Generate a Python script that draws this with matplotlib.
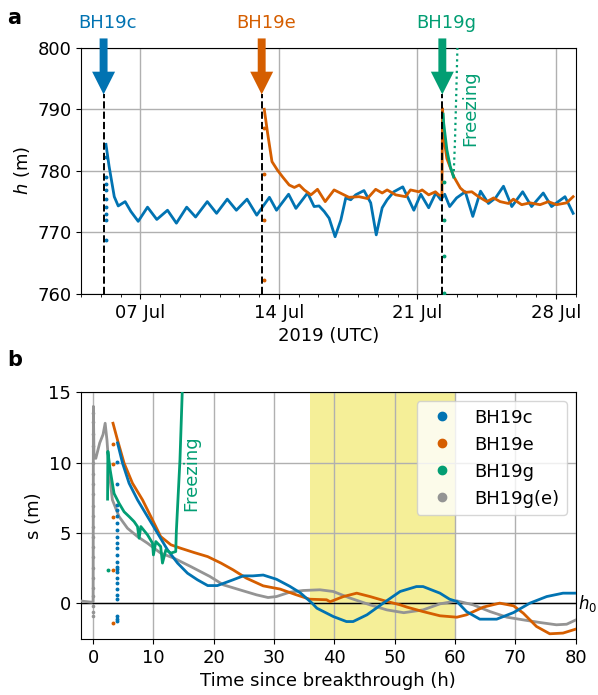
import datetime as dt
import matplotlib
matplotlib.use("Agg")
import matplotlib.pyplot as plt
import matplotlib.dates as mdates
from matplotlib.patches import FancyArrow
from matplotlib.lines import Line2D

plt.rcParams['font.family'] = ['DejaVu Sans']
plt.rcParams['font.size'] = 13

# ---------------- colours ----------------
C_C = '#0173b2'
C_E = '#d55e00'
C_G = '#029e73'
C_GE = '#949494'
C_BAND = '#ece133'

# ---------------- panel a data (day of July 2019, h in m) ----------------
c_day = [5.26, 5.42, 5.68, 5.88, 6.23, 6.52, 6.89, 7.36, 7.83, 8.37, 8.82, 9.34, 9.79,
         10.38, 10.85, 11.39, 11.85, 12.39, 12.88, 13.52, 13.88, 14.49, 14.86, 15.45,
         15.78, 16.03, 16.29, 16.54, 16.84, 17.13, 17.38, 17.63, 17.88, 18.30, 18.64,
         18.92, 19.22, 19.47, 19.81, 20.26, 20.57, 20.82, 21.17, 21.57, 21.93, 22.18,
         22.38, 22.63, 22.98, 23.42, 23.80, 24.19, 24.59, 24.95, 25.35, 25.77, 26.32,
         26.77, 27.36, 27.78, 28.46, 28.87]
c_h = [784.3, 780.7, 775.8, 774.3, 775.0, 773.4, 771.8, 774.1, 772.1, 773.6, 771.5, 774.1,
       772.5, 775.0, 773.1, 775.4, 773.6, 775.4, 772.8, 775.7, 773.6, 776.2, 773.9, 776.4,
       774.2, 774.3, 773.4, 772.3, 769.3, 772.0, 775.6, 775.3, 776.1, 776.8, 774.8, 769.6,
       774.0, 775.3, 776.6, 777.4, 775.3, 773.6, 776.2, 774.0, 776.4, 775.3, 776.2, 774.2,
       775.6, 776.6, 772.6, 776.7, 774.7, 775.6, 777.5, 774.2, 776.6, 774.2, 776.4, 774.2,
       775.8, 773.1]

e_day = [13.26, 13.43, 13.65, 13.93, 14.19, 14.52, 14.78, 15.03, 15.28, 15.62, 15.95,
         16.34, 16.79, 17.29, 17.54, 18.05, 18.47, 18.89, 19.22, 19.47, 19.90, 20.40,
         20.65, 21.07, 21.24, 21.57, 21.91, 22.08, 22.24, 22.27, 22.33, 22.49, 22.83,
         23.17, 23.42, 23.75, 24.09, 24.51, 24.85, 25.18, 25.60, 25.85, 26.27, 26.69,
         27.20, 27.62, 28.03, 28.54, 28.87]
e_h = [790.0, 786.1, 781.5, 780.1, 779.0, 777.7, 777.3, 777.7, 776.9, 776.1, 777.0,
       775.0, 776.9, 776.1, 775.7, 775.8, 775.5, 777.0, 776.4, 776.9, 776.1, 775.8,
       776.9, 776.6, 776.9, 776.1, 776.6, 776.1, 775.9, 790.1, 785.5, 782.0, 779.1,
       777.2, 776.5, 776.6, 775.8, 775.0, 775.6, 775.0, 774.7, 775.4, 774.5, 774.8,
       774.5, 775.0, 774.5, 774.8, 775.8]

g_day = [22.30, 22.33, 22.49, 22.66, 22.83]
g_h = [789.2, 787.7, 783.4, 780.7, 779.0]
g_freeze_day = [22.83, 22.90, 22.96, 23.03]
g_freeze_h = [779.0, 785.0, 792.0, 801.0]

c_out_day, c_out_h = 5.28, [782.3, 779.0, 777.9, 776.9, 775.5, 774.2, 773.0, 772.0, 768.7]
e_out_day, e_out_h = 13.23, [786.9, 779.5, 772.0, 762.3]
g_out_day, g_out_h = 22.36, [778.2, 772.0, 766.2, 760.2]

breakthrough_day = [5.14, 13.13, 22.26]
well_names = ['BH19c', 'BH19e', 'BH19g']
well_colors = [C_C, C_E, C_G]

# ---------------- panel b data (hours since breakthrough, s in m) ----------------
c_t = [4.05, 4.88, 5.97, 7.36, 9.02, 10.68, 12.34, 14.0, 15.65, 17.3, 19.0, 20.6, 23.2,
       24.9, 26.5, 28.2, 30.4, 32.6, 34.3, 36.3, 37.1, 39.8, 42.0, 43.1, 45.4, 48.1, 50.9,
       53.6, 54.7, 57.5, 59.1, 60.3, 61.9, 64.1, 66.9, 69.7, 72.4, 75.2, 77.9, 80.0]
c_s = [11.4, 9.96, 8.53, 7.35, 6.16, 4.98, 3.79, 2.85, 2.13, 1.66, 1.25, 1.25, 1.66,
       1.94, 1.94, 2.0, 1.7, 1.2, 0.75, 0.0, -0.36, -0.95, -1.31, -1.31, -0.83, 0.0, 0.83,
       1.18, 1.18, 0.71, 0.28, 0.12, -0.6, -1.14, -1.14, -0.67, 0.0, 0.47, 0.71, 0.71]

e_t = [3.3, 4.05, 5.14, 6.53, 8.19, 9.85, 11.2, 12.9, 14.5, 16.75, 19.0, 21.2, 23.2, 25.4,
       28.2, 31.0, 33.7, 35.9, 38.7, 39.3, 41.5, 43.7, 45.9, 48.7, 50.9, 52.0, 54.7, 57.5,
       60.3, 61.9, 64.7, 67.4, 69.7, 71.3, 73.5, 75.7, 77.9, 80.0]
e_s = [12.8, 11.6, 9.96, 8.53, 7.35, 5.92, 4.74, 4.15, 3.91, 3.6, 3.31, 2.85, 2.37, 1.78,
       1.23, 1.0, 0.59, 0.28, 0.24, 0.1, 0.47, 0.71, 0.47, 0.12, -0.12, -0.28, -0.6, -0.9,
       -1.0, -0.83, -0.28, 0.0, -0.19, -0.71, -1.66, -2.18, -2.13, -1.85]

g_t = [2.4, 2.45, 2.82, 3.48, 4.31, 5.14, 5.97, 6.8, 7.36, 7.63, 7.91, 9.02, 9.85, 10.0,
       10.4, 11.2, 11.5, 12.06, 12.9, 13.7, 13.8, 14.4, 14.8]
g_s = [7.4, 10.8, 9.5, 7.8, 7.1, 6.5, 6.16, 5.8, 5.45, 4.62, 5.45, 4.86, 4.27, 3.43,
       4.38, 4.03, 2.85, 3.79, 3.56, 3.67, 5.1, 10.2, 15.3]

ge_t = [-2.0, -0.3, 0.0, 0.05, 0.15, 0.45, 1.1, 1.65, 2.0, 2.3, 2.7, 3.2, 4.3, 5.7, 7.35,
        9.0, 11.2, 13.4, 16.2, 19.35, 21.6, 24.3, 27.1, 29.0, 30.4, 32.6, 34.8, 37.6, 39.8,
        42.6, 45.9, 48.7, 51.5, 54.7, 57.5, 60.3, 63.0, 65.8, 68.6, 71.3, 74.1, 76.8,
        78.5, 80.0]
ge_s = [0.15, 0.07, 0.1, 14.0, 10.4, 10.3, 11.4, 12.0, 12.8, 11.6, 9.2, 7.35, 6.16, 5.33,
        4.74, 4.27, 3.56, 3.2, 2.6, 1.9, 1.3, 0.95, 0.59, 0.4, 0.47, 0.78, 0.9, 0.95, 0.83,
        0.36, -0.12, -0.48, -0.68, -0.48, -0.05, 0.16, -0.12, -0.6, -1.0, -1.19, -1.38,
        -1.54, -1.5, -1.2]

c_out_t, c_out_s = 4.0, [10.07, 8.5, 7.0, 6.6, 6.2, 5.7, 5.2, 4.7, 4.3, 3.9, 3.4, 2.9, 2.6,
                         2.4, 2.2, 1.8, 1.4, 1.0, 0.6, 0.3, -0.9, -1.1, -1.3]
e_out_t, e_out_s = 3.3, [11.3, 9.9, 6.1, 2.35, -1.4]
g_out_t, g_out_s = 2.4, [2.37]
ge_out_t, ge_out_s = 0.0, [13.5, 12.9, 12.0, 11.2, 10.0, 9.2, 8.5, 7.8, 6.9, 6.2, 5.4, 4.7,
                           4.0, 3.3, 2.5, 1.8, 1.1, 0.5, -0.2, -0.6, -0.9]

band = (36, 60)
legend_names = ['BH19c', 'BH19e', 'BH19g', 'BH19g(e)']
legend_colors = [C_C, C_E, C_G, C_GE]

# ---------------- helpers ----------------
JUL0 = mdates.date2num(dt.datetime(2019, 7, 1))


def jd(days):
    if isinstance(days, (list, tuple)):
        return [JUL0 + d - 1 for d in days]
    return JUL0 + days - 1


fig = plt.figure(figsize=(5.98, 6.95), dpi=100)
ax1 = fig.add_axes([0.1355, 0.577, 0.8272, 0.3544])
ax2 = fig.add_axes([0.1355, 0.0806, 0.8272, 0.3549])

LW = 2.0
# ---------------- panel a ----------------
ax1.plot(jd(c_day), c_h, color=C_C, lw=LW, solid_joinstyle='round', zorder=3)
ax1.plot(jd(e_day), e_h, color=C_E, lw=LW, solid_joinstyle='round', zorder=3)
ax1.plot(jd(g_day), g_h, color=C_G, lw=LW, solid_joinstyle='round', zorder=4)
ax1.plot(jd(g_freeze_day), g_freeze_h, color=C_G, lw=1.6, ls=(0, (1, 1.6)), zorder=4)
ax1.plot([jd(c_out_day)] * len(c_out_h), c_out_h, 'o', color=C_C, ms=1.8, zorder=3)
ax1.plot([jd(e_out_day)] * len(e_out_h), e_out_h, 'o', color=C_E, ms=1.8, zorder=3)
ax1.plot([jd(g_out_day)] * len(g_out_h), g_out_h, 'o', color=C_G, ms=1.8, zorder=3)

for bd, name, col in zip(breakthrough_day, well_names, well_colors):
    x = jd(bd)
    ax1.plot([x, x], [760, 792.4], color='black', ls='--', lw=1.4, zorder=5, clip_on=False)
    arr = FancyArrow(x, 801.5, 0, -9.1, width=0.4, head_width=1.16, head_length=3.7,
                     length_includes_head=True, color=col, clip_on=False, zorder=6, lw=0)
    ax1.add_patch(arr)
    ax1.text(x + 0.22, 804, name, color=col, ha='center', va='center', clip_on=False)

ax1.text(jd(23.69), 790.2, 'Freezing', color=C_G, rotation=90, ha='center', va='center')

ax1.set_xlim(jd(4.0), jd(29.0))
ax1.set_ylim(760, 800)
ax1.set_yticks([760, 770, 780, 790, 800])
ax1.xaxis.set_major_locator(mdates.DayLocator(bymonthday=[7, 14, 21, 28]))
ax1.xaxis.set_minor_locator(mdates.DayLocator())
ax1.xaxis.set_major_formatter(mdates.DateFormatter('%d %b'))
ax1.grid(True, color='#b0b0b0', lw=1.0)
ax1.set_ylabel('$h$ (m)')
ax1.set_xlabel('2019 (UTC)')

# ---------------- panel b ----------------
ax2.axvspan(band[0], band[1], color=C_BAND, alpha=0.5, lw=0, zorder=1)
ax2.axhline(0, color='black', lw=1.0, zorder=2.5)
ax2.plot(ge_t, ge_s, color=C_GE, lw=LW, solid_joinstyle='round', zorder=3)
ax2.plot(e_t, e_s, color=C_E, lw=LW, solid_joinstyle='round', zorder=3)
ax2.plot(c_t, c_s, color=C_C, lw=LW, solid_joinstyle='round', zorder=3)
ax2.plot(g_t, g_s, color=C_G, lw=LW, solid_joinstyle='round', zorder=4)
ax2.plot([ge_out_t] * len(ge_out_s), ge_out_s, 'o', color=C_GE, ms=1.6, zorder=3)
ax2.plot([c_out_t] * len(c_out_s), c_out_s, 'o', color=C_C, ms=1.8, zorder=3)
ax2.plot([e_out_t] * len(e_out_s), e_out_s, 'o', color=C_E, ms=1.8, zorder=3)
ax2.plot([g_out_t] * len(g_out_s), g_out_s, 'o', color=C_G, ms=1.8, zorder=3)

ax2.text(16.2, 9.23, 'Freezing', color=C_G, rotation=90, ha='center', va='center')
ax2.text(80.45, 0, '$h_0$', ha='left', va='center', clip_on=False, fontsize=12)

ax2.set_xlim(-2, 80)
ax2.set_ylim(-2.55, 15)
ax2.set_xticks([0, 10, 20, 30, 40, 50, 60, 70, 80])
ax2.set_yticks([0, 5, 10, 15])
ax2.grid(True, color='#b0b0b0', lw=1.0)
ax2.set_ylabel('s (m)')
ax2.set_xlabel('Time since breakthrough (h)')

handles = [Line2D([], [], ls='none', marker='o', ms=6, color=c) for c in legend_colors]
ax2.legend(handles, legend_names, loc='upper right')

fig.text(0.024, 0.974, 'a', fontweight='bold', fontsize=15, ha='center', va='center')
fig.text(0.024, 0.482, 'b', fontweight='bold', fontsize=15, ha='center', va='center')

fig.savefig('out.png', dpi=100)
